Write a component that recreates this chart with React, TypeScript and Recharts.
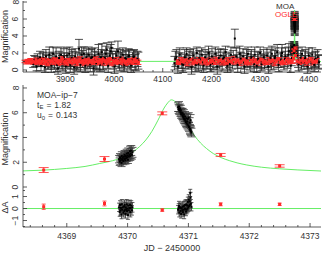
import { ComposedChart, Scatter, Line, XAxis, YAxis, ErrorBar, ReferenceLine } from 'recharts';

const FONT = '"Liberation Sans", Arial, sans-serif';
const INK = '#333';
const MODEL_GREEN = '#66ee66';
const OGLE_RED = '#ff2a2a';

// [JD-2450000, magnification, error]
const moaSeason1: [number, number, number][] = [
  [3834, 0.7, 0.4], [3836, 1.2, 0.5], [3838, 1.0, 0.6], [3841, 0.4, 0.5], [3843, 1.3, 0.6], [3845, 1.0, 0.5],
  [3848, 1.5, 0.7], [3850, 0.5, 0.6], [3851, 0.9, 0.5], [3853, 1.2, 0.8], [3855, 1.4, 0.7], [3858, 0.3, 0.6],
  [3860, 1.6, 0.8], [3861, 1.1, 0.7], [3863, 0.7, 0.6], [3865, 0.9, 0.8], [3867, 1.8, 0.9], [3868, 1.3, 0.7],
  [3871, 0.5, 0.8], [3873, 1.2, 0.9], [3875, 1.9, 0.8], [3877, 0.8, 0.7], [3878, 1.0, 0.9], [3881, 1.6, 1.0],
  [3883, 0.6, 0.8], [3885, 0.2, 0.7], [3887, 1.4, 0.8], [3888, 1.1, 0.9], [3891, 1.8, 0.9], [3893, 0.9, 0.8],
  [3895, 0.8, 0.9], [3897, 1.5, 1.0], [3898, 1.2, 0.8], [3901, 0.4, 0.8], [3903, 1.7, 0.9], [3905, 1.1, 0.9],
  [3908, 1.9, 0.8], [3910, 0.6, 0.9], [3911, 0.9, 0.8], [3913, 1.4, 1.0], [3915, 1.3, 0.9], [3918, 0.3, 0.8],
  [3920, 1.6, 0.9], [3921, 1.1, 1.0], [3923, 0.7, 0.8], [3925, 1.0, 0.9], [3928, 2.5, 1.1], [3930, 1.2, 0.9],
  [3931, 0.6, 0.8], [3933, 1.8, 0.9], [3935, 1.3, 1.0], [3938, 1.9, 0.8], [3940, 0.9, 0.9], [3941, 0.5, 0.8],
  [3943, 1.5, 1.0], [3945, 1.1, 0.9], [3948, 1.8, 0.9], [3950, 1.0, 0.8], [3951, 0.7, 0.9], [3953, 1.4, 1.0],
  [3955, 1.5, 1.0], [3958, 0.2, 0.8], [3960, 1.7, 0.9], [3961, 1.2, 1.0], [3963, 0.8, 0.8], [3965, 1.1, 1.0],
  [3968, 1.9, 1.1], [3970, 0.9, 0.9], [3971, 0.6, 0.8], [3973, 1.5, 0.9], [3975, 2.1, 1.0], [3977, 1.0, 0.9],
  [3978, 0.8, 0.8], [3981, 1.4, 0.9], [3983, 1.9, 0.9], [3985, 2.4, 0.8], [3987, 1.1, 0.9], [3988, 0.5, 0.8],
  [3991, 1.7, 0.9], [3993, 2.2, 0.8], [3995, 2.6, 0.7], [3997, 1.4, 0.8], [3998, 1.0, 0.9], [4001, 0.4, 0.8],
  [4003, 1.3, 0.9], [4005, 1.7, 0.8], [4008, 2.2, 1.2], [4010, 1.1, 0.9], [4011, 0.7, 0.8], [4013, 1.5, 0.9],
  [4015, 1.2, 0.9], [4018, 1.8, 0.8], [4020, 0.9, 0.9], [4021, 0.6, 0.8], [4023, 1.4, 0.9], [4025, 1.3, 0.9],
  [4028, 1.0, 0.8], [4030, 1.6, 0.9], [4031, 1.7, 0.7], [4033, 0.8, 0.8], [4035, 0.5, 0.8], [4038, 1.2, 0.9],
  [4040, 1.5, 0.8], [4041, 1.6, 0.8], [4043, 0.9, 0.9], [4045, 0.9, 1.0], [4048, 1.3, 0.9], [4050, 1.1, 1.0],
];

const moaSeason2: [number, number, number][] = [
  [4124, 0.8, 0.8], [4126, 1.3, 0.9], [4128, 1.5, 0.9], [4131, 0.4, 0.8], [4133, 1.1, 0.9], [4135, 1.8, 0.8],
  [4138, 1.1, 0.9], [4140, 0.7, 0.8], [4142, 0.6, 0.9], [4145, 1.5, 0.9], [4147, 1.0, 0.8], [4149, 1.9, 0.7],
  [4152, 0.9, 0.8], [4154, 1.3, 0.9], [4156, 1.4, 1.0], [4159, 0.3, 0.8], [4161, 1.2, 0.9], [4163, 1.7, 0.8],
  [4166, 1.0, 0.9], [4168, 0.6, 0.8], [4170, 2.0, 0.7], [4173, 0.7, 0.8], [4175, 1.4, 0.9], [4177, 1.2, 1.0],
  [4180, 1.8, 0.8], [4182, 0.9, 0.9], [4184, 0.5, 0.8], [4187, 1.5, 0.9], [4189, 1.0, 0.8], [4191, 1.1, 1.0],
  [4194, 2.0, 0.8], [4196, 1.3, 0.9], [4198, 0.6, 0.8], [4201, 1.6, 0.9], [4203, 0.8, 0.8], [4205, 1.0, 0.9],
  [4208, 1.9, 0.8], [4210, 1.2, 0.9], [4212, 0.4, 0.9], [4215, 1.4, 1.0], [4217, 0.9, 0.8], [4219, 1.7, 0.8],
  [4222, 0.8, 0.9], [4224, 1.3, 0.8], [4226, 1.5, 0.9], [4229, 2.1, 0.7], [4231, 1.0, 0.9], [4233, 0.5, 0.8],
  [4236, 1.2, 0.9], [4238, 0.7, 0.8], [4240, 1.8, 0.9], [4243, 0.9, 0.8], [4245, 1.4, 0.9], [4248, 3.7, 1.1],
  [4251, 1.6, 1.0], [4253, 1.0, 0.8], [4254, 0.6, 0.9], [4258, 1.9, 0.9], [4260, 1.3, 0.8], [4261, 1.1, 0.9],
  [4265, 1.6, 0.9], [4267, 0.9, 0.8], [4268, 0.4, 0.8], [4272, 1.4, 1.0], [4274, 1.1, 0.8], [4275, 1.9, 0.8],
  [4279, 0.8, 0.8], [4281, 1.3, 0.9], [4282, 1.5, 0.9], [4286, 1.0, 0.8], [4288, 0.7, 0.9], [4289, 1.8, 0.9],
  [4293, 0.5, 0.8], [4295, 1.2, 0.9], [4296, 1.3, 0.9], [4300, 2.0, 0.7], [4302, 1.0, 0.8], [4303, 0.7, 0.8],
  [4307, 1.5, 0.9], [4309, 0.9, 0.8], [4310, 1.1, 0.8], [4314, 1.7, 0.9], [4316, 1.2, 0.9], [4317, 0.4, 0.8],
  [4321, 1.4, 1.0], [4323, 0.8, 0.8], [4324, 1.9, 0.9], [4328, 0.9, 0.8], [4330, 1.4, 0.9], [4331, 1.6, 1.0],
  [4335, 2.1, 0.9], [4337, 1.1, 0.8], [4338, 0.6, 0.8], [4342, 1.2, 0.9], [4344, 1.7, 0.9], [4345, 2.0, 1.0],
  [4349, 0.8, 0.8], [4351, 1.3, 0.9], [4352, 1.6, 1.0], [4356, 1.0, 0.8], [4358, 1.8, 0.9], [4359, 2.2, 0.9],
  [4363, 0.5, 0.8], [4365, 1.4, 0.9], [4366, 2.7, 0.6], [4376, 1.7, 0.9], [4378, 1.1, 0.8], [4379, 0.7, 0.8],
  [4383, 1.4, 0.9], [4385, 0.9, 0.8], [4386, 1.9, 0.8], [4390, 0.9, 0.8], [4392, 1.3, 0.9], [4393, 1.5, 0.9],
  [4397, 0.4, 0.8], [4399, 1.1, 0.9], [4400, 1.7, 0.9], [4404, 1.1, 0.9], [4406, 0.8, 0.8], [4407, 1.8, 0.8],
  [4411, 0.6, 0.8], [4413, 1.2, 0.9], [4414, 1.3, 0.9], [4418, 1.5, 0.9], [4420, 1.0, 0.8], [4421, 0.9, 0.8],
];

const ogleSeason1: [number, number, number][] = [
  [3816, 1.0, 0.15], [3819, 0.9, 0.2], [3822, 1.1, 0.15], [3825, 0.95, 0.2], [3828, 1.15, 0.2], [3831, 0.85, 0.15],
  [3834, 1.05, 0.2], [3837, 0.9, 0.25], [3840, 1.2, 0.2], [3843, 0.95, 0.2], [3846, 1.1, 0.25], [3849, 0.8, 0.2],
  [3852, 1.0, 0.25], [3855, 1.25, 0.2], [3858, 0.9, 0.25], [3861, 1.05, 0.2], [3864, 0.75, 0.25], [3867, 1.15, 0.2],
  [3870, 0.95, 0.3], [3873, 1.1, 0.25], [3876, 0.85, 0.2], [3879, 1.2, 0.25], [3882, 1.0, 0.3], [3885, 0.8, 0.25],
  [3888, 1.1, 0.2], [3891, 0.95, 0.3], [3894, 1.3, 0.25], [3897, 0.9, 0.2], [3900, 1.05, 0.3], [3903, 0.8, 0.25],
  [3906, 1.15, 0.2], [3909, 1.0, 0.3], [3912, 0.85, 0.25], [3915, 1.2, 0.25], [3918, 0.95, 0.2], [3921, 1.1, 0.3],
  [3924, 0.75, 0.25], [3927, 1.05, 0.2], [3930, 1.25, 0.3], [3933, 0.9, 0.25], [3936, 1.1, 0.2], [3939, 0.8, 0.3],
  [3942, 1.0, 0.25], [3945, 1.2, 0.2], [3948, 0.9, 0.3], [3951, 1.05, 0.25], [3954, 0.85, 0.2], [3957, 1.15, 0.3],
  [3960, 0.95, 0.25], [3963, 1.3, 0.25], [3966, 1.0, 0.3], [3969, 0.8, 0.2], [3972, 1.1, 0.25], [3975, 0.9, 0.3],
  [3978, 1.2, 0.25], [3981, 1.0, 0.2], [3984, 0.85, 0.3], [3987, 1.1, 0.25], [3990, 0.95, 0.3], [3993, 1.25, 0.2],
  [3996, 0.8, 0.3], [3999, 1.05, 0.25], [4002, 0.9, 0.2], [4005, 1.15, 0.3], [4008, 1.0, 0.25], [4011, 0.85, 0.2],
  [4014, 1.2, 0.3], [4017, 0.95, 0.25], [4020, 1.1, 0.2], [4023, 0.8, 0.25], [4026, 1.0, 0.3], [4029, 1.15, 0.2],
  [4032, 0.9, 0.25], [4035, 1.05, 0.3], [4038, 0.85, 0.2], [4041, 1.2, 0.25], [4044, 0.95, 0.3], [4047, 1.1, 0.2],
  [4050, 0.9, 0.25],
];

const ogleSeason2: [number, number, number][] = [
  [4130, 1.0, 0.25], [4134, 0.85, 0.2], [4138, 1.15, 0.3], [4142, 0.95, 0.25], [4146, 1.1, 0.2], [4150, 0.8, 0.3],
  [4154, 1.05, 0.25], [4158, 1.2, 0.2], [4162, 0.9, 0.3], [4166, 1.0, 0.25], [4170, 0.85, 0.2], [4174, 1.15, 0.3],
  [4178, 0.95, 0.25], [4182, 1.25, 0.2], [4186, 0.9, 0.3], [4190, 1.05, 0.25], [4194, 0.8, 0.2], [4198, 1.1, 0.3],
  [4202, 1.0, 0.25], [4206, 0.85, 0.2], [4210, 1.2, 0.3], [4214, 0.95, 0.25], [4218, 1.1, 0.2], [4222, 0.9, 0.3],
  [4226, 1.05, 0.25], [4230, 0.8, 0.2], [4234, 1.15, 0.3], [4238, 1.0, 0.25], [4242, 0.9, 0.2], [4246, 1.25, 0.3],
  [4250, 0.95, 0.25], [4254, 1.1, 0.2], [4258, 0.85, 0.3], [4262, 1.05, 0.25], [4266, 1.2, 0.2], [4270, 0.9, 0.3],
  [4274, 1.0, 0.25], [4278, 0.8, 0.2], [4282, 1.15, 0.3], [4286, 0.95, 0.25], [4290, 1.1, 0.2], [4294, 0.85, 0.3],
  [4298, 1.05, 0.25], [4302, 1.2, 0.2], [4306, 0.9, 0.3], [4310, 1.0, 0.25], [4314, 0.85, 0.2], [4318, 1.15, 0.3],
  [4322, 0.95, 0.25], [4326, 1.1, 0.2], [4330, 0.8, 0.3], [4334, 1.05, 0.25], [4338, 1.25, 0.2], [4342, 0.9, 0.3],
  [4346, 1.0, 0.25], [4350, 0.85, 0.2], [4354, 1.15, 0.3], [4358, 0.95, 0.25], [4362, 1.1, 0.2], [4366, 1.0, 0.25],
  [4376, 1.05, 0.2], [4380, 0.9, 0.25], [4384, 1.15, 0.3], [4388, 0.95, 0.2], [4392, 1.1, 0.25], [4396, 0.85, 0.3],
  [4400, 1.05, 0.2], [4404, 1.2, 0.25], [4408, 0.9, 0.3], [4412, 1.0, 0.2], [4416, 1.1, 0.25],
];

// the two MOA nights over the peak
const moaNight1: [number, number, number][] = [
  [4369.86, 2.25, 0.3], [4369.87, 2.05, 0.3], [4369.875, 2.4, 0.3], [4369.88, 2.15, 0.35], [4369.89, 2.3, 0.3],
  [4369.9, 1.95, 0.3], [4369.905, 2.5, 0.35], [4369.91, 2.2, 0.3], [4369.92, 2.35, 0.3], [4369.93, 2.1, 0.3],
  [4369.94, 2.45, 0.35], [4369.945, 2.25, 0.3], [4369.95, 2.6, 0.35], [4369.96, 2.3, 0.3], [4369.965, 2.15, 0.3],
  [4369.97, 2.5, 0.35], [4369.98, 2.35, 0.3], [4369.985, 2.7, 0.35], [4369.99, 2.4, 0.3], [4370.0, 2.55, 0.35],
  [4370.005, 2.2, 0.3], [4370.01, 2.75, 0.4], [4370.02, 2.45, 0.35], [4370.03, 2.6, 0.35], [4370.04, 2.9, 0.4],
  [4370.045, 2.5, 0.35], [4370.05, 2.7, 0.4], [4370.06, 2.95, 0.4], [4370.07, 2.6, 0.35], [4370.08, 2.8, 0.4],
];

const moaNight2: [number, number, number][] = [
  [4370.83, 6.45, 0.35], [4370.84, 6.3, 0.35], [4370.845, 6.5, 0.4], [4370.85, 6.2, 0.35], [4370.86, 6.35, 0.35],
  [4370.87, 6.05, 0.35], [4370.875, 6.2, 0.4], [4370.88, 5.9, 0.35], [4370.89, 6.0, 0.35], [4370.9, 5.8, 0.35],
  [4370.905, 5.95, 0.4], [4370.91, 5.7, 0.35], [4370.92, 5.6, 0.35], [4370.925, 5.85, 0.4], [4370.93, 5.5, 0.35],
  [4370.94, 5.45, 0.35], [4370.945, 5.7, 0.4], [4370.95, 5.35, 0.35], [4370.96, 5.25, 0.35], [4370.965, 5.55, 0.4],
  [4370.97, 5.15, 0.35], [4370.98, 5.3, 0.4], [4370.985, 5.05, 0.35], [4370.99, 5.5, 0.4], [4371.0, 4.95, 0.35],
  [4371.005, 5.6, 0.4], [4371.01, 4.85, 0.35], [4371.02, 5.2, 0.4], [4371.025, 4.7, 0.35], [4371.03, 4.6, 0.35],
  [4371.035, 5.4, 0.45], [4371.04, 4.5, 0.35], [4371.05, 4.4, 0.35],
];

const oglePeak: [number, number, number][] = [
  [4368.62, 1.37, 0.2], [4369.62, 2.26, 0.2], [4370.57, 5.95, 0.12], [4371.53, 2.59, 0.12], [4372.5, 1.7, 0.1],
];

// residuals [JD-2450000, dA, error]
const moaResid1: [number, number, number][] = [
  [4369.86, 0.1, 0.35], [4369.87, -0.3, 0.35], [4369.875, 0.3, 0.35], [4369.88, -0.15, 0.4], [4369.89, 0.05, 0.35],
  [4369.9, -0.5, 0.35], [4369.905, 0.35, 0.4], [4369.91, -0.1, 0.35], [4369.92, 0.1, 0.35], [4369.93, -0.35, 0.35],
  [4369.94, 0.15, 0.4], [4369.945, -0.2, 0.35], [4369.95, 0.3, 0.4], [4369.96, -0.1, 0.35], [4369.965, -0.45, 0.35],
  [4369.97, 0.1, 0.4], [4369.98, -0.05, 0.35], [4369.985, 0.35, 0.4], [4369.99, -0.2, 0.35], [4370.0, 0.0, 0.4],
  [4370.005, -0.55, 0.35], [4370.01, 0.25, 0.4], [4370.02, -0.15, 0.4], [4370.03, 0.05, 0.4], [4370.04, 0.3, 0.4],
  [4370.045, -0.3, 0.4], [4370.05, 0.05, 0.4], [4370.06, 0.25, 0.4], [4370.07, -0.15, 0.4], [4370.08, 0.1, 0.4],
];

const moaResid2: [number, number, number][] = [
  [4370.83, -0.1, 0.35], [4370.84, 0.05, 0.35], [4370.845, 0.2, 0.4], [4370.85, -0.35, 0.35], [4370.86, 0.1, 0.35],
  [4370.87, -0.2, 0.35], [4370.875, 0.05, 0.4], [4370.88, -0.45, 0.35], [4370.89, 0.0, 0.35], [4370.9, -0.15, 0.35],
  [4370.905, 0.15, 0.4], [4370.91, -0.3, 0.35], [4370.92, -0.1, 0.35], [4370.925, 0.2, 0.4], [4370.93, -0.5, 0.35],
  [4370.94, 0.0, 0.35], [4370.945, 0.3, 0.4], [4370.95, -0.05, 0.35], [4370.96, -0.25, 0.35], [4370.965, 0.35, 0.4],
  [4370.97, -0.1, 0.35], [4370.98, 0.25, 0.4], [4370.985, 0.0, 0.35], [4370.99, 0.55, 0.4], [4371.0, 0.1, 0.35],
  [4371.005, 0.75, 0.4], [4371.01, 0.2, 0.35], [4371.02, 0.6, 0.4], [4371.025, 0.3, 0.35], [4371.03, 1.3, 0.3],
  [4371.035, 0.9, 0.45], [4371.04, 0.4, 0.35], [4371.05, 0.15, 0.35],
];

const ogleResid: [number, number, number][] = [
  [4368.62, 0.15, 0.22], [4369.62, 0.42, 0.2], [4370.57, -0.13, 0.1], [4371.53, 0.35, 0.12], [4372.5, 0.35, 0.1],
];

// point-lens model curve [JD-2450000, magnification]
const modelZoom: [number, number][] = [
  [4368.28, 1.3], [4368.6, 1.36], [4369.0, 1.5], [4369.3, 1.66], [4369.54, 1.9], [4369.75, 2.12], [4369.9, 2.35],
  [4370.0, 2.57], [4370.1, 2.88], [4370.2, 3.28], [4370.3, 3.8], [4370.4, 4.5], [4370.5, 5.4], [4370.6, 6.38],
  [4370.66, 6.8], [4370.72, 7.04], [4370.78, 6.9], [4370.84, 6.5], [4370.9, 5.95], [4370.96, 5.35], [4371.02, 4.75],
  [4371.1, 4.15], [4371.2, 3.55], [4371.3, 3.1], [4371.41, 2.7], [4371.55, 2.35], [4371.68, 2.12], [4371.8, 1.95],
  [4371.96, 1.78], [4372.2, 1.6], [4372.5, 1.47], [4372.8, 1.38], [4373.19, 1.29],
];
const modelSurvey: [number, number][] = [
  [3813, 1.0], [4366, 1.02], [4368.3, 1.3], [4369.5, 1.9], [4370.3, 3.8], [4370.72, 7.04], [4371.2, 3.55],
  [4372, 1.78], [4373.2, 1.29], [4376, 1.06], [4425, 1.0],
];

// tick positions
const surveyTicks = [
  3820, 3840, 3860, 3880, 3900, 3920, 3940, 3960, 3980, 4000, 4020, 4040, 4060, 4080, 4100, 4120,
  4140, 4160, 4180, 4200, 4220, 4240, 4260, 4280, 4300, 4320, 4340, 4360, 4380, 4400, 4420,
];
const surveyMajors = [3900, 4000, 4100, 4200, 4300, 4400];
const zoomTicks = [
  4368.4, 4368.6, 4368.8, 4369, 4369.2, 4369.4, 4369.6, 4369.8, 4370, 4370.2, 4370.4, 4370.6, 4370.8,
  4371, 4371.2, 4371.4, 4371.6, 4371.8, 4372, 4372.2, 4372.4, 4372.6, 4372.8, 4373,
];
const zoomMajors = [4369, 4370, 4371, 4372, 4373];
const magTicks = [0, 1, 2, 3, 4, 5, 6, 7, 8];
const magMajors = [0, 2, 4, 6, 8];
const residTicks = [-1.5, -1, -0.5, 0, 0.5, 1, 1.5];
const residMajors = [-1, 0, 1];

const pts = (rows: [number, number, number][]) => rows.map(([t, a, e]) => ({ t, a, e }));
const curve = (rows: [number, number][]) => rows.map(([t, a]) => ({ t, a }));

const moaTop = pts([...moaSeason1, ...moaSeason2, ...moaNight1, ...moaNight2]);
const ogleTop = pts([...ogleSeason1, ...ogleSeason2, ...oglePeak]);
const moaZoom = pts([...moaNight1, ...moaNight2]);
const ogleZoom = pts(oglePeak);
const moaRes = pts([...moaResid1, ...moaResid2]);
const ogleRes = pts(ogleResid);

const fmt = (v: number) => (v < 0 ? '\u2212' + Math.abs(v) : String(v));

// pgplot style ticks: drawn inward, labels only on majors
const makeTick = (side: string, majors: number[], labelOffset = 0) =>
  function Tick(props: any) {
    const { x, y, payload } = props;
    const v = Number(payload.value);
    const major = majors.some((m) => Math.abs(m - v) < 1e-6);
    const len = major ? 4 : 2;
    if (side === 'top') return <line x1={x} x2={x} y1={y} y2={y + len} stroke={INK} strokeWidth={0.8} />;
    if (side === 'right') return <line x1={x} x2={x - len} y1={y} y2={y} stroke={INK} strokeWidth={0.8} />;
    if (side === 'bottom')
      return (
        <g>
          <line x1={x} x2={x} y1={y} y2={y - len} stroke={INK} strokeWidth={0.8} />
          {labelOffset > 0 && major && (
            <text x={x} y={y + labelOffset} textAnchor="middle" fontSize={8.5} fill={INK} fontFamily={FONT}>
              {v}
            </text>
          )}
        </g>
      );
    const lx = x - 4.5;
    return (
      <g>
        <line x1={x} x2={x + len} y1={y} y2={y} stroke={INK} strokeWidth={0.8} />
        {major && (
          <text x={lx} y={y} transform={`rotate(-90 ${lx} ${y})`} textAnchor="middle" fontSize={8.5} fill={INK}
            fontFamily={FONT}>
            {fmt(v)}
          </text>
        )}
      </g>
    );
  };

const blackDot = (p: any) => <rect x={p.cx - 1} y={p.cy - 1} width={2} height={2} fill="#000" />;
const redDot = (p: any) => <rect x={p.cx - 1.5} y={p.cy - 1.5} width={3} height={3} fill={OGLE_RED} />;

const frame = { stroke: INK, strokeWidth: 0.8 };

function Axes({ xDomain, xTicks, xMajors, yDomain, yTicks, yMajors, bottomHeight, labelOffset }: any) {
  return [
    <XAxis key="xb" dataKey="t" type="number" domain={xDomain} allowDataOverflow ticks={xTicks} interval={0}
      tickSize={0} tickMargin={0} height={bottomHeight} axisLine={frame} tickLine={false}
      tick={makeTick('bottom', xMajors, labelOffset)} />,
    <XAxis key="xt" xAxisId="top" orientation="top" dataKey="t" type="number" domain={xDomain} allowDataOverflow
      ticks={xTicks} interval={0} tickSize={0} tickMargin={0} height={0} axisLine={frame} tickLine={false}
      tick={makeTick('top', xMajors)} />,
    <YAxis key="yl" type="number" domain={yDomain} allowDataOverflow ticks={yTicks} interval={0} tickSize={0}
      tickMargin={0} width={23} axisLine={frame} tickLine={false} tick={makeTick('left', yMajors)} />,
    <YAxis key="yr" yAxisId="right" orientation="right" type="number" domain={yDomain} allowDataOverflow ticks={yTicks}
      interval={0} tickSize={0} tickMargin={0} width={0} axisLine={frame} tickLine={false}
      tick={makeTick('right', yMajors)} />,
  ];
}

function SurveyPanel() {
  return (
    <ComposedChart width={322} height={91} margin={{ top: 1, right: 1, bottom: 0, left: 0 }}>
      {Axes({ xDomain: [3813, 4425], xTicks: surveyTicks, xMajors: surveyMajors, yDomain: [-0.24, 8.12],
        yTicks: magTicks, yMajors: magMajors, bottomHeight: 19, labelOffset: 10 })}
      <Scatter data={moaTop} dataKey="a" shape={blackDot} isAnimationActive={false}>
        <ErrorBar dataKey="e" direction="y" width={4} stroke="#222" strokeWidth={0.8} />
      </Scatter>
      <Scatter data={ogleTop} dataKey="a" shape={redDot} isAnimationActive={false}>
        <ErrorBar dataKey="e" direction="y" width={3} stroke={OGLE_RED} strokeWidth={1} />
      </Scatter>
      <Line data={curve(modelSurvey)} dataKey="a" type="linear" stroke={MODEL_GREEN} strokeWidth={1} dot={false}
        isAnimationActive={false} />
    </ComposedChart>
  );
}

function PeakPanel() {
  return (
    <ComposedChart width={322} height={110} margin={{ top: 2, right: 1, bottom: 5, left: 0 }}>
      {Axes({ xDomain: [4368.28, 4373.18], xTicks: zoomTicks, xMajors: zoomMajors, yDomain: [-0.08, 8.24],
        yTicks: magTicks, yMajors: magMajors, bottomHeight: 0, labelOffset: 0 })}
      <Line data={curve(modelZoom)} dataKey="a" type="monotone" stroke={MODEL_GREEN} strokeWidth={1} dot={false}
        isAnimationActive={false} />
      <Scatter data={moaZoom} dataKey="a" shape={blackDot} isAnimationActive={false}>
        <ErrorBar dataKey="e" direction="y" width={4} stroke="#333" strokeWidth={0.8} />
      </Scatter>
      <Scatter data={ogleZoom} dataKey="a" shape={redDot} isAnimationActive={false}>
        <ErrorBar dataKey="e" direction="y" width={5} stroke={OGLE_RED} strokeWidth={0.8} />
      </Scatter>
    </ComposedChart>
  );
}

function ResidualPanel() {
  return (
    <ComposedChart width={322} height={67} margin={{ top: 2, right: 1, bottom: 0, left: 0 }}>
      {Axes({ xDomain: [4368.28, 4373.18], xTicks: zoomTicks, xMajors: zoomMajors, yDomain: [-1.54, 1.71],
        yTicks: residTicks, yMajors: residMajors, bottomHeight: 26, labelOffset: 11.5 })}
      <ReferenceLine y={0} stroke={MODEL_GREEN} strokeWidth={1} />
      <Scatter data={moaRes} dataKey="a" shape={blackDot} isAnimationActive={false}>
        <ErrorBar dataKey="e" direction="y" width={2} stroke="#333" strokeWidth={0.8} />
      </Scatter>
      <Scatter data={ogleRes} dataKey="a" shape={redDot} isAnimationActive={false}>
        <ErrorBar dataKey="e" direction="y" width={2} stroke={OGLE_RED} strokeWidth={0.8} />
      </Scatter>
    </ComposedChart>
  );
}

export default function App() {
  return (
    <div style={{ position: 'absolute', left: 0, top: 0, width: 322, height: 253, background: '#fff', overflow: 'hidden' }}>
      <div style={{ position: 'absolute', left: 0, top: 0 }}>
        <SurveyPanel />
      </div>
      <div style={{ position: 'absolute', left: 0, top: 83 }}>
        <PeakPanel />
      </div>
      <div style={{ position: 'absolute', left: 0, top: 186 }}>
        <ResidualPanel />
      </div>
      <svg width={322} height={253} style={{ position: 'absolute', left: 0, top: 0, pointerEvents: 'none' }}
        fontFamily={FONT} fill={INK}>
        <text transform="translate(7.5,36.5) rotate(-90)" textAnchor="middle" fontSize={9}>Magnification</text>
        <text transform="translate(7.5,139) rotate(-90)" textAnchor="middle" fontSize={9}>Magnification</text>
        <text transform="translate(7.5,207.5) rotate(-90)" textAnchor="middle" fontSize={9}>ΔA</text>
        <text x={172} y={251} textAnchor="middle" fontSize={9}>JD  −  2450000</text>
        <text x={276} y={8.5} fontSize={8}>MOA</text>
        <text x={275} y={16.7} fontSize={8} fill={OGLE_RED}>OGLE</text>
        <text x={37} y={97.5} fontSize={8.5}>MOA−ip−7</text>
        <text x={37} y={107.5} fontSize={8.5}>
          t<tspan fontSize={6} dy={1.5}>E</tspan>
          <tspan dy={-1.5} dx={3}>=</tspan>
          <tspan dx={3}>1.82</tspan>
        </text>
        <text x={37} y={118} fontSize={8.5}>
          u<tspan fontSize={6} dy={1.5}>0</tspan>
          <tspan dy={-1.5} dx={3}>=</tspan>
          <tspan dx={3}>0.143</tspan>
        </text>
      </svg>
    </div>
  );
}
